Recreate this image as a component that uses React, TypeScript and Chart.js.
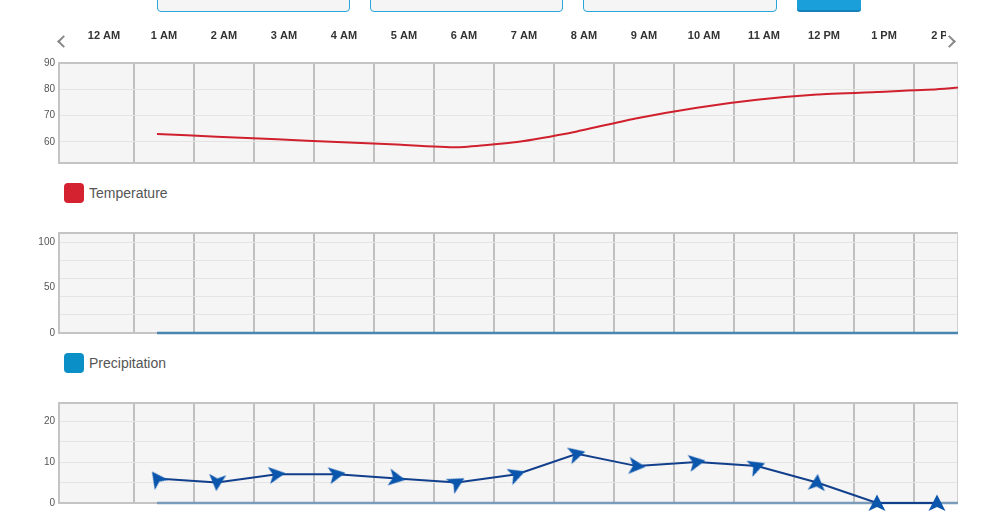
import React, { useEffect, useRef } from 'react';
import { Chart, registerables } from 'chart.js';

Chart.register(...registerables);

// ---------- data ----------
const hourLabels = ['12 AM', '1 AM', '2 AM', '3 AM', '4 AM', '5 AM', '6 AM', '7 AM', '8 AM', '9 AM', '10 AM', '11 AM', '12 PM', '1 PM', '2 PM'];

const temperatureHours = [1, 2, 3, 4, 5, 6, 7, 8, 9, 10, 11, 12, 13, 14, 15];
const temperature = [63, 62, 61, 60, 59, 58, 60, 64, 69, 73, 76, 78, 79, 80, 82];

const precipitationHours = [1, 2, 3, 4, 5, 6, 7, 8, 9, 10, 11, 12, 13, 14, 15];
const precipitation = [0, 0, 0, 0, 0, 0, 0, 0, 0, 0, 0, 0, 0, 0, 0];

const windHours = [1, 2, 3, 4, 5, 6, 7, 8, 9, 10, 11, 12, 13, 14];
const windSpeed = [6, 5, 7, 7, 6, 5, 7, 12, 9, 10, 9, 5, 0, 0];
const windDirection = [324, 185, 82, 80, 100, 60, 70, 75, 95, 80, 70, 5, 0, 0];

const gustHours = [1, 2, 3, 4, 5, 6, 7, 8, 9, 10, 11, 12, 13, 14, 15];
const windGust = [0, 0, 0, 0, 0, 0, 0, 0, 0, 0, 0, 0, 0, 0, 0];

const temperatureTicks = [60, 70, 80, 90];
const temperatureLabels = [60, 70, 80, 90];
const precipitationTicks = [0, 20, 40, 50, 60, 80, 100];
const precipitationLabels = [0, 50, 100];
const precipitationGrid = [20, 40, 60, 80, 100];
const windTicks = [0, 5, 10, 15, 20];
const windLabels = [0, 10, 20];

// ---------- layout ----------
const FONT = "Arial, 'Liberation Sans', Helvetica, sans-serif";
const X_MIN = -0.633;
const X_MAX = 14.35;
const GRID_OFFSET = 0.617;
const LABEL_OFFSET = 0.117;
const W = 986;

const gridPositions = hourLabels.slice(0, 14).map((_, i) => i + GRID_OFFSET);
const labelPositions = hourLabels.map((_, i) => i + LABEL_OFFSET);

const plotBg = {
  id: 'plotBg',
  beforeDraw(chart: any) {
    const { ctx, chartArea: a } = chart;
    ctx.save();
    ctx.fillStyle = '#f5f5f5';
    ctx.fillRect(a.left, a.top, a.right - a.left, a.bottom - a.top);
    ctx.restore();
  },
};

const plotBorder = {
  id: 'plotBorder',
  beforeDatasetsDraw(chart: any) {
    const { ctx, chartArea: a } = chart;
    ctx.save();
    ctx.strokeStyle = '#c4c4c4';
    ctx.lineWidth = 2;
    ctx.beginPath();
    ctx.moveTo(a.right, a.top);
    ctx.lineTo(a.left, a.top);
    ctx.lineTo(a.left, a.bottom);
    ctx.lineTo(a.right, a.bottom);
    ctx.stroke();
    ctx.strokeStyle = '#d0d0d0';
    ctx.lineWidth = 1;
    ctx.beginPath();
    ctx.moveTo(a.right - 0.5, a.top);
    ctx.lineTo(a.right - 0.5, a.bottom);
    ctx.stroke();
    ctx.restore();
  },
};

const gridX = () => ({
  type: 'linear',
  min: X_MIN,
  max: X_MAX,
  afterBuildTicks: (s: any) => {
    s.ticks = gridPositions.map((v) => ({ value: v }));
  },
  ticks: { display: false },
  grid: { color: '#c0c0c0', lineWidth: 2, drawTicks: false },
  border: { display: false },
  afterFit: (s: any) => {
    s.height = 0;
    s.paddingLeft = 0;
    s.paddingRight = 0;
  },
});

const yAxis = (min: number, max: number, tickVals: number[], labelVals: number[], gridVals: number[]) => ({
  type: 'linear',
  min,
  max,
  afterBuildTicks: (s: any) => {
    s.ticks = tickVals.map((v) => ({ value: v }));
  },
  ticks: {
    callback: (v: any) => (labelVals.includes(v) ? String(v) : ''),
    font: { family: FONT, size: 10 },
    color: '#555',
    padding: 4,
    autoSkip: false,
  },
  grid: {
    color: (ctx: any) => (ctx.tick && gridVals.includes(ctx.tick.value) ? '#e4e4e4' : 'rgba(0,0,0,0)'),
    lineWidth: 1,
    drawTicks: false,
  },
  border: { display: false },
  afterFit: (s: any) => {
    s.width = 59;
    s.paddingTop = 0;
    s.paddingBottom = 0;
  },
});

function makeArrow(): HTMLCanvasElement {
  const c = document.createElement('canvas');
  c.width = 20;
  c.height = 20;
  const g = c.getContext('2d')!;
  g.fillStyle = '#0b56ad';
  g.beginPath();
  g.moveTo(10, 1.5);
  g.lineTo(18.5, 18);
  g.lineTo(10, 14);
  g.lineTo(1.5, 18);
  g.closePath();
  g.fill();
  return c;
}

function ChartCanvas({ top, height, build }: { top: number; height: number; build: () => any }) {
  const ref = useRef<HTMLCanvasElement>(null);
  useEffect(() => {
    const chart = new Chart(ref.current as HTMLCanvasElement, build());
    return () => chart.destroy();
  }, []);
  return (
    <canvas
      ref={ref}
      width={W}
      height={height}
      style={{ position: 'absolute', left: 0, top, width: W, height, display: 'block' }}
    />
  );
}

const baseOptions = (padding: any) => ({
  responsive: false,
  animation: false,
  devicePixelRatio: 1,
  layout: { padding, autoPadding: false },
  plugins: { legend: { display: false }, tooltip: { enabled: false } },
  events: [],
});

const edgeClip = { left: 0, top: 0, right: 0, bottom: 5 };

const buildTemperature = () => ({
  type: 'line',
  data: {
    datasets: [
      {
        label: 'Temperature',
        data: temperatureHours.map((h, i) => ({ x: h, y: temperature[i] })),
        borderColor: '#d0202e',
        borderWidth: 2,
        pointRadius: 0,
        tension: 0.15,
      },
    ],
  },
  options: {
    ...baseOptions({ left: 0, right: 28, top: 0, bottom: 7 }),
    scales: {
      x: gridX(),
      xTop: {
        type: 'linear',
        position: 'top',
        min: X_MIN,
        max: X_MAX,
        afterBuildTicks: (s: any) => {
          s.ticks = labelPositions.map((v) => ({ value: v }));
        },
        ticks: {
          callback: (_v: any, i: number) => hourLabels[i],
          font: { family: FONT, size: 11, weight: 'bold' },
          color: '#333',
          padding: 20,
          maxRotation: 0,
          minRotation: 0,
          autoSkip: false,
        },
        grid: { display: false, drawTicks: false },
        border: { display: false },
        afterFit: (s: any) => {
          s.height = 43;
          s.paddingLeft = 0;
          s.paddingRight = 0;
        },
      },
      y: yAxis(52, 90, temperatureTicks, temperatureLabels, temperatureTicks),
    },
  },
  plugins: [plotBg, plotBorder],
});

const buildPrecipitation = () => ({
  type: 'line',
  data: {
    datasets: [
      {
        label: 'Precipitation',
        data: precipitationHours.map((h, i) => ({ x: h, y: precipitation[i] })),
        borderColor: '#4a86ae',
        borderWidth: 2.5,
        pointRadius: 0,
        clip: edgeClip,
      },
    ],
  },
  options: {
    ...baseOptions({ left: 0, right: 28, top: 8, bottom: 7 }),
    scales: {
      x: gridX(),
      y: yAxis(0, 110, precipitationTicks, precipitationLabels, precipitationGrid),
    },
  },
  plugins: [plotBg, plotBorder],
});

const buildWind = () => {
  const arrow = makeArrow();
  return {
    type: 'line',
    data: {
      datasets: [
        {
          label: 'Wind',
          data: windHours.map((h, i) => ({ x: h, y: windSpeed[i] })),
          borderColor: '#123f8c',
          borderWidth: 2,
          pointStyle: arrow,
          pointRotation: windDirection,
          pointRadius: 10,
          clip: false,
        },
        {
          label: 'Gust',
          data: gustHours.map((h, i) => ({ x: h, y: windGust[i] })),
          borderColor: '#7b9bba',
          borderWidth: 2.5,
          pointRadius: 0,
          clip: edgeClip,
        },
      ],
    },
    options: {
      ...baseOptions({ left: 0, right: 28, top: 8, bottom: 13 }),
      scales: {
        x: gridX(),
        y: yAxis(0, 24.4, windTicks, windLabels, windTicks),
      },
    },
    plugins: [plotBg, plotBorder],
  };
};

const inputBox = (left: number, width: number): React.CSSProperties => ({
  position: 'absolute',
  left,
  top: -20,
  width,
  height: 32,
  boxSizing: 'border-box',
  border: '1px solid #2ba6d9',
  borderRadius: 4,
  background: '#f5f5f5',
});

const legendSwatch = (top: number, color: string): React.CSSProperties => ({
  position: 'absolute',
  left: 64,
  top,
  width: 20,
  height: 20,
  borderRadius: 4,
  background: color,
});

const legendText = (top: number): React.CSSProperties => ({
  position: 'absolute',
  left: 89,
  top,
  height: 20,
  lineHeight: '20px',
  fontFamily: FONT,
  fontSize: 14,
  color: '#555',
  whiteSpace: 'nowrap',
});

export default function App() {
  return (
    <div
      style={{
        position: 'absolute',
        left: 0,
        top: 0,
        width: W,
        height: 516,
        overflow: 'hidden',
        background: '#fff',
      }}
    >
      <div style={inputBox(157, 193)} />
      <div style={inputBox(370, 193)} />
      <div style={inputBox(583, 194)} />
      <div
        style={{
          position: 'absolute',
          left: 797,
          top: -20,
          width: 64,
          height: 32,
          boxSizing: 'border-box',
          background: '#1a9fdb',
          borderBottom: '2px solid #1581b8',
          borderRadius: 3,
        }}
      />

      <ChartCanvas top={20} height={150} build={buildTemperature} />
      <ChartCanvas top={225} height={115} build={buildPrecipitation} />
      <ChartCanvas top={395} height={121} build={buildWind} />

      {/* navigation chevrons */}
      <div
        style={{
          position: 'absolute',
          left: 59,
          top: 37,
          width: 7,
          height: 7,
          borderLeft: '2px solid #888',
          borderBottom: '2px solid #888',
          transform: 'rotate(45deg)',
        }}
      />
      <div style={{ position: 'absolute', left: 946, top: 24, width: 40, height: 26, background: '#fff' }} />
      <div
        style={{
          position: 'absolute',
          left: 945,
          top: 37,
          width: 7,
          height: 7,
          borderTop: '2px solid #888',
          borderRight: '2px solid #888',
          transform: 'rotate(45deg)',
        }}
      />

      {/* legends */}
      <div style={legendSwatch(183, '#d42231')} />
      <div style={legendText(183)}>Temperature</div>
      <div style={legendSwatch(353, '#0b8fc7')} />
      <div style={legendText(353)}>Precipitation</div>
    </div>
  );
}
